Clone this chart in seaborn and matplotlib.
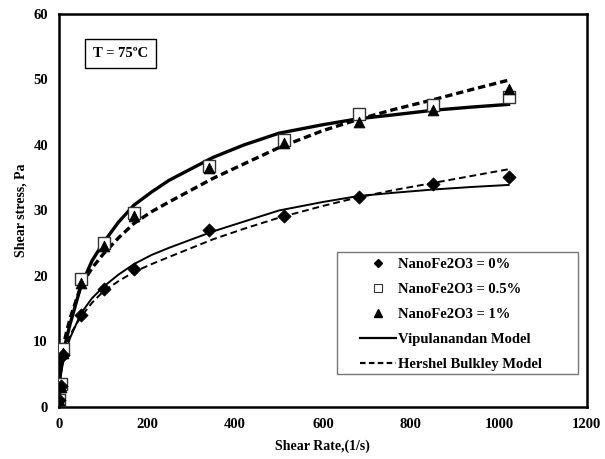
import numpy as np
import pandas as pd
import seaborn as sns
import matplotlib.pyplot as plt
from matplotlib.lines import Line2D
from matplotlib.patches import Rectangle

# measured points
shear_rate = [1, 5.1, 10.2, 51, 102, 170, 340, 511, 681, 851, 1022]
stress_0 = [1.0, 3.2, 8.0, 14.0, 18.0, 21.0, 27.0, 29.1, 32.0, 34.0, 35.1]
stress_05 = [1.0, 3.5, 8.8, 19.6, 25.1, 29.6, 36.8, 40.8, 44.7, 46.1, 47.3]
stress_1 = [1.0, 3.1, 8.3, 19.0, 24.6, 29.2, 36.5, 40.3, 43.5, 45.3, 48.5]

# model curves
curve_x = [0, 10, 25, 50, 75, 100, 135, 170, 210, 250, 350, 420, 500, 600, 680, 760, 850, 940, 1022]
vip_0 = [3.5, 7.0, 10.5, 14.3, 16.6, 18.3, 20.2, 21.8, 23.2, 24.3, 26.8, 28.3, 30.0, 31.3, 32.2, 32.7, 33.2, 33.6, 33.9]
hb_0 = [3.5, 8.0, 11.0, 13.8, 15.9, 17.6, 19.2, 20.6, 21.8, 22.9, 25.6, 27.2, 28.9, 30.7, 32.0, 33.1, 34.2, 35.3, 36.3]
vip_high = [3.5, 8.5, 12.6, 18.5, 22.3, 25.0, 28.2, 30.8, 32.8, 34.6, 38.1, 40.0, 41.8, 43.1, 44.0, 44.6, 45.3, 45.8, 46.2]
hb_high = [3.5, 9.5, 13.5, 18.5, 21.2, 23.3, 25.8, 28.0, 29.8, 31.3, 34.9, 37.1, 39.6, 42.2, 43.9, 45.4, 46.9, 48.5, 49.9]

pts = pd.DataFrame({
    'rate': shear_rate * 3,
    'stress': stress_0 + stress_05 + stress_1,
    'group': ['NanoFe2O3 = 0%'] * 11 + ['NanoFe2O3 = 0.5%'] * 11 + ['NanoFe2O3 = 1%'] * 11,
})

plt.rcParams['font.family'] = ['Liberation Serif', 'DejaVu Serif']
plt.rcParams['font.weight'] = 'bold'

fig = plt.figure(figsize=(6.05, 4.59), dpi=100)
ax = fig.add_axes([0.0975, 0.1133, 0.8725, 0.8562])

# model lines
sns.lineplot(x=curve_x, y=vip_high, ax=ax, color='black', lw=2.4, estimator=None, sort=False)
sns.lineplot(x=curve_x, y=hb_high, ax=ax, color='black', lw=2.4, ls=(0, (2.2, 1.2)), estimator=None, sort=False)
sns.lineplot(x=curve_x, y=vip_0, ax=ax, color='black', lw=1.4, estimator=None, sort=False)
sns.lineplot(x=curve_x, y=hb_0, ax=ax, color='black', lw=1.4, ls=(0, (3.5, 2)), estimator=None, sort=False)

# data points
sns.scatterplot(data=pts[pts.group == 'NanoFe2O3 = 0.5%'], x='rate', y='stress', ax=ax,
                marker='s', s=80, facecolor='white', edgecolor='#333333', linewidth=1.0, zorder=3, legend=False)
sns.scatterplot(data=pts[pts.group == 'NanoFe2O3 = 1%'], x='rate', y='stress', ax=ax,
                marker='^', s=60, color='black', edgecolor='black', zorder=4, legend=False)
sns.scatterplot(data=pts[pts.group == 'NanoFe2O3 = 0%'], x='rate', y='stress', ax=ax,
                marker='D', s=45, color='black', edgecolor='black', zorder=4, legend=False)

ax.set_xlim(0, 1200)
ax.set_ylim(0, 60)
ax.set_xticks(range(0, 1201, 200))
ax.set_yticks(range(0, 61, 10))
ax.tick_params(length=0, labelsize=10.5, pad=8)
for lab in ax.get_xticklabels() + ax.get_yticklabels():
    lab.set_fontweight('bold')
for sp in ax.spines.values():
    sp.set_linewidth(1.8)
    sp.set_color('black')
ax.set_xlabel('Shear Rate,(1/s)', fontsize=10, fontweight='bold', labelpad=6)
ax.set_ylabel('Shear stress, Pa', fontsize=10, fontweight='bold', labelpad=4)

ax.text(139, 54, 'T = 75ºC', fontsize=10.5, fontweight='bold', ha='center', va='center',
        bbox=dict(boxstyle='square,pad=0.55', facecolor='white', edgecolor='black', linewidth=1.0))

# legend frame drawn separately so the padding matches
ax.add_patch(Rectangle((0.5265, 0.084), 0.4565, 0.3104, transform=ax.transAxes,
                       facecolor='white', edgecolor='#777777', lw=1.0, zorder=5))

handles = [
    Line2D([], [], ls='none', marker='D', ms=4.5, color='black'),
    Line2D([], [], ls='none', marker='s', ms=6, mfc='white', mec='#333333', mew=0.8),
    Line2D([], [], ls='none', marker='^', ms=6, color='black'),
    Line2D([], [], color='black', lw=1.6),
    Line2D([], [], color='black', lw=1.6, ls=(0, (2.5, 1.5))),
]
labels = ['NanoFe2O3 = 0%', 'NanoFe2O3 = 0.5%', 'NanoFe2O3 = 1%', 'Vipulanandan Model', 'Hershel Bulkley Model']
leg = ax.legend(handles, labels, loc='upper left', bbox_to_anchor=(0.570, 0.379), frameon=False,
                handlelength=2.5, handletextpad=0.1, borderpad=0, borderaxespad=0,
                labelspacing=0.8, prop={'weight': 'bold', 'size': 10.5})
leg.set_zorder(6)

fig.savefig('out.png', dpi=100)
